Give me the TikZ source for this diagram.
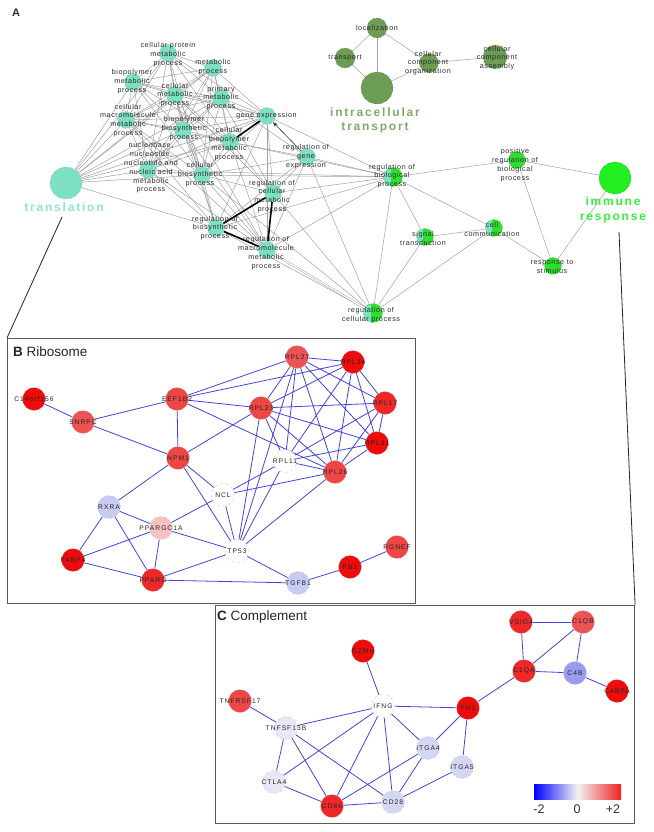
\documentclass[tikz,border=0pt]{standalone}
\usepackage{fontspec}
\setmainfont{Liberation Sans}
\newfontfamily\lsp[LetterSpace=8]{Liberation Sans}
\newfontfamily\bsp[LetterSpace=15]{Liberation Sans}
\newfontfamily\gsp[LetterSpace=15]{Liberation Sans}
\usetikzlibrary{arrows.meta}
\pgfdeclarelayer{boxes}
\pgfdeclarelayer{edges}
\pgfsetlayers{boxes,edges,main}
\definecolor{tealc}{HTML}{7DDFC3}
\definecolor{tealt}{HTML}{8EE5CB}
\definecolor{olivec}{HTML}{6D9C55}
\definecolor{olivet}{HTML}{7FAD68}
\definecolor{greenc}{HTML}{2EE02E}
\definecolor{greenb}{HTML}{22EE22}
\definecolor{greent}{HTML}{3BEE3B}
\definecolor{edgeg}{HTML}{A2A2A2}
\definecolor{blueedge}{HTML}{4444DD}
\definecolor{txtA}{HTML}{2E2E2E}
\definecolor{txtB}{HTML}{262626}
\definecolor{rOne}{HTML}{EE0B0B}
\definecolor{rTwo}{HTML}{EE4545}
\definecolor{rThree}{HTML}{EC5353}
\definecolor{rA}{HTML}{EE2828}
\definecolor{pinkc}{HTML}{F5C2C2}
\definecolor{lavOne}{HTML}{C8CBF2}
\definecolor{lavTwo}{HTML}{E6E8F8}
\definecolor{lavThree}{HTML}{D4D7F4}
\definecolor{cfourc}{HTML}{9A9AEE}
\definecolor{cbblue}{HTML}{0000FF}
\definecolor{cbred}{HTML}{EE2222}
\definecolor{cbmid}{HTML}{F2F2F2}
\begin{document}
\begin{tikzpicture}[x=1pt,y=-1pt,
  ae/.style={draw=edgeg, line width=0.5pt},
  ak/.style={draw=black, line width=1.6pt},
  anode/.style={circle, inner sep=0pt, minimum size=17pt, dashed, line width=0.25pt},
  tn/.style={anode, fill=tealc, draw=tealc!85!black},
  gn/.style={anode, fill=greenc, draw=greenc!85!black},
  mixn/.style={anode, fill=greenc, draw=greenc!85!black, path picture={\fill[tealc] (path picture bounding box.south west) rectangle ([xshift=-2pt]path picture bounding box.north);}},
  on/.style={anode, fill=olivec, draw=olivec!85!black},
  al/.style={font=\lsp\fontsize{7.2}{8.8}\selectfont, text=txtA, align=center, inner sep=0pt},
  big/.style={font=\bsp\bfseries\fontsize{12}{14.5}\selectfont, align=center, inner sep=0pt},
  be/.style={draw=blueedge, line width=0.8pt},
  pn/.style={circle, inner sep=0pt, minimum size=23pt, draw=gray!45, dashed, line width=0.3pt},
  pl/.style={font=\gsp\fontsize{6.7}{8}\selectfont, text=txtB, inner sep=0pt},
  boxs/.style={draw=black!65, line width=1.1pt, fill=white, inner sep=0pt},
  conn/.style={draw=black!85, line width=0.8pt}
]
\useasboundingbox (0,0) rectangle (653,832);
\begin{pgfonlayer}{boxes}
\fill[white] (0,0) rectangle (653,832);
\end{pgfonlayer}

\node[font=\bfseries\fontsize{11}{12}\selectfont, text=txtA] (lblA) at (16,13) {A};

% ---------- panel A nodes ----------
\node[tn] (cpm) at (168,53) {};
\node[tn] (mp) at (213,68) {};
\node[tn] (bpm) at (133,82) {};
\node[tn] (cm) at (175,95) {};
\node[tn] (pm) at (221,98) {};
\node[tn] (ge) at (267,116) {};
\node[tn] (cmm) at (126,120) {};
\node[tn] (bbs) at (183,130) {};
\node[tn] (cbm) at (230,142) {};
\node[tn] (nuc) at (148,170) {};
\node[tn] (cbs) at (202,175) {};
\node[tn] (rge) at (307,157) {};
\node[tn] (rcm) at (273,193) {};
\node[tn] (rbs) at (216,228) {};
\node[tn] (rmm) at (267,250) {};
\node[tn, minimum size=32pt] (trans) at (66,183) {};
\node[mixn, minimum size=19pt] (rbp) at (393,177) {};
\node[gn] (prb) at (517,160) {};
\node[gn, minimum size=32pt, fill=greenb] (imm) at (615,178) {};
\node[mixn] (sig) at (425,237) {};
\node[mixn] (cc) at (494,228) {};
\node[gn] (rs) at (553,266) {};
\node[mixn, minimum size=19pt] (rcp) at (373,313) {};
\node[on, minimum size=20pt] (loc) at (377,28) {};
\node[on, minimum size=20pt] (tr) at (345,58) {};
\node[on, minimum size=32pt] (ict) at (377,88) {};
\node[on, minimum size=19pt] (cco) at (429,63) {};
\node[on, minimum size=24pt] (cca) at (495,57) {};

% ---------- panel A edges ----------
\begin{pgfonlayer}{edges}
\foreach \a [count=\i] in {cpm,mp,bpm,cm,pm,ge,cmm,bbs,cbm,nuc,cbs}{
  \foreach \b [count=\j] in {cpm,mp,bpm,cm,pm,ge,cmm,bbs,cbm,nuc,cbs}{
    \ifnum\j>\i \draw[ae] (\a) -- (\b);\fi
  }
}
\foreach \a/\b in {trans/cpm,trans/bpm,trans/cmm,trans/cm,trans/mp,trans/pm,trans/bbs,trans/nuc,trans/cbs,trans/ge,trans/cbm,trans/rbs,
  rge/cbm,rge/cbs,rge/pm,rge/rcm,rge/rbs,rge/rmm,rge/rbp,rge/rcp,
  rcm/ge,rcm/cbm,rcm/cbs,rcm/cm,rcm/pm,rcm/rbp,rcm/rcp,
  rbs/cbs,rbs/nuc,rbs/bbs,rbs/cmm,rbs/cm,rbs/ge,rbs/rbp,rbs/rcp,
  rmm/cbs,rmm/nuc,rmm/bbs,rmm/cmm,rmm/cbm,rmm/ge,rmm/rbp,rmm/cm,
  rbp/ge,rbp/nuc,rbp/cbs,rbp/cbm,rbp/sig,rbp/cc,rbp/prb,rbp/rcp,
  prb/imm,prb/rs,imm/rs,cc/sig,cc/rs,cc/rcp,sig/rcp,rcp/cbs,
  loc/tr,loc/ict,loc/cco,tr/ict,ict/cco,cco/cca}
  \draw[ae] (\a) -- (\b);
\draw[ae, double=white, double distance=1.2pt] (rmm) -- (rcp);
\draw[ak] (ge) -- (cbm);
\draw[ak] (rbs) -- (rcm);
\draw[ak] (rbs) -- (rmm);
\draw[ak] (rcm) -- (rmm);
\draw[draw=black!80, line width=0.6pt, -{Stealth[length=5pt,width=4pt]}] (rge) -- (ge);
\end{pgfonlayer}

% ---------- panel A labels ----------
\node[al] (cpm-t) at (168,54.5) {cellular protein\\metabolic\\process};
\node[al] (mp-t) at (213,67.5) {metabolic\\process};
\node[al] (bpm-t) at (132,81.5) {biopolymer\\metabolic\\process};
\node[al] (cm-t) at (175,95) {cellular\\metabolic\\process};
\node[al] (pm-t) at (221,98) {primary\\metabolic\\process};
\node[al] (ge-t) at (266.5,116) {gene expression};
\node[al] (cmm-t) at (128,120.5) {cellular\\macromolecule\\metabolic\\process};
\node[al] (bbs-t) at (184,128.5) {biopolymer\\biosynthetic\\process};
\node[al] (cbm-t) at (229,144) {cellular\\biopolymer\\metabolic\\process};
\node[al] (nuc-t) at (151,168) {nucleobase,\\nucleoside,\\nucleotide and\\nucleic acid\\metabolic\\process};
\node[al] (cbs-t) at (200,174.5) {cellular\\biosynthetic\\process};
\node[al] (rge-t) at (306,156.5) {regulation of\\gene\\expression};
\node[al] (rcm-t) at (272,196.5) {regulation of\\cellular\\metabolic\\process};
\node[al] (rbs-t) at (215,228) {regulation of\\biosynthetic\\process};
\node[al] (rmm-t) at (266,253) {regulation of\\macromolecule\\metabolic\\process};
\node[al] (rcp-t) at (371,315) {regulation of\\cellular process};
\node[al] (rbp-t) at (392,176) {regulation of\\biological\\process};
\node[al] (prb-t) at (515,165) {positive\\regulation of\\biological\\process};
\node[al] (sig-t) at (423,238.5) {signal\\transduction};
\node[al] (cc-t) at (492,229.5) {cell\\communication};
\node[al] (rs-t) at (552,266.5) {response to\\stimulus};
\node[al] (loc-t) at (377,28) {localization};
\node[al] (tr-t) at (345,58) {transport};
\node[al] (cco-t) at (428,63) {cellular\\component\\organization};
\node[al] (cca-t) at (497,58) {cellular\\component\\assembly};
\node[big, text=tealt] (trans-t) at (64,207) {translation};
\node[big, text=olivet] (ict-t) at (375,120.5) {intracellular\\transport};
\node[big, text=greent] (imm-t) at (613,210) {immune\\response};

% ---------- panel boxes and connectors ----------
\coordinate (transfoot) at (62,217);
\coordinate (immfoot) at (619,232);
\begin{pgfonlayer}{boxes}
\node[boxs, anchor=north west, minimum width=408pt, minimum height=265pt] (boxB) at (7,338) {};
\node[boxs, anchor=north west, minimum width=419pt, minimum height=218pt] (boxC) at (215,605) {};
\draw[conn] (transfoot) -- (boxB.north west);
\draw[conn] (immfoot) -- (boxC.north east);
\end{pgfonlayer}
\node[anchor=west, inner sep=0pt, font=\fontsize{13.5}{14}\selectfont, text=black!85] (titleB) at (13,352) {\textbf{B} Ribosome};
\node[anchor=west, inner sep=0pt, font=\fontsize{13.5}{14}\selectfont, text=black!85] (titleC) at (217,617) {\textbf{C} Complement};

% ---------- panel B ----------
\node[pn, fill=rOne, label={[pl]center:C14orf156}] (c14) at (34,399) {};
\node[pn, fill=rThree, label={[pl]center:SNRPC}] (snrpc) at (83,422) {};
\node[pn, fill=rTwo, label={[pl]center:EEF1B2}] (eef) at (177,399) {};
\node[pn, fill=rTwo, label={[pl]center:NPM1}] (npm) at (178,458) {};
\node[pn, fill=lavOne, label={[pl]center:RXRA}] (rxra) at (109,507) {};
\node[pn, fill=pinkc, label={[pl]center:PPARGC1A}] (pgc) at (161,528) {};
\node[pn, fill=rOne, label={[pl]center:FABP4}] (fabp) at (73,560) {};
\node[pn, fill=rA, label={[pl]center:PPARG}] (pparg) at (153,580) {};
\node[pn, fill=rThree, label={[pl]center:RPL27}] (rpl27) at (297,357) {};
\node[pn, fill=rOne, label={[pl]center:RPL34}] (rpl34) at (353,362) {};
\node[pn, fill=rA, label={[pl]center:RPL17}] (rpl17) at (385,403) {};
\node[pn, fill=rTwo, label={[pl]center:RPL23}] (rpl23) at (261,408) {};
\node[pn, fill=rOne, label={[pl]center:RPL31}] (rpl31) at (377,443) {};
\node[pn, fill=white, label={[pl]center:RPL11}] (rpl11) at (285,461) {};
\node[pn, fill=rTwo, label={[pl]center:RPL26}] (rpl26) at (335,472) {};
\node[pn, fill=white, label={[pl]center:NCL}] (ncl) at (223,495) {};
\node[pn, fill=white, label={[pl]center:TP53}] (tp53) at (237,551) {};
\node[pn, fill=lavOne, label={[pl]center:TGFB1}] (tgfb) at (298,583) {};
\node[pn, fill=rOne, label={[pl]center:FN1}] (fnb) at (350,567) {};
\node[pn, fill=rTwo, label={[pl]center:RGNEF}] (rgnef) at (397,547) {};
\begin{pgfonlayer}{edges}
\foreach \a/\b in {c14/snrpc,snrpc/eef,snrpc/npm,eef/npm,eef/rpl27,eef/rpl34,eef/rpl23,eef/rpl26,
  npm/rpl23,npm/ncl,npm/tp53,npm/rxra,rxra/pgc,rxra/fabp,rxra/pparg,pgc/fabp,pgc/pparg,pgc/ncl,pgc/tp53,
  fabp/pparg,pparg/tp53,pparg/tgfb,ncl/tp53,ncl/rpl11,ncl/rpl26,tp53/rpl23,tp53/rpl27,tp53/rpl11,tp53/rpl26,
  tp53/tgfb,tgfb/fnb,fnb/rgnef}
  \draw[be] (\a) -- (\b);
\foreach \a [count=\i] in {rpl27,rpl34,rpl17,rpl23,rpl31,rpl11,rpl26}{
  \foreach \b [count=\j] in {rpl27,rpl34,rpl17,rpl23,rpl31,rpl11,rpl26}{
    \ifnum\j>\i \draw[be] (\a) -- (\b);\fi
  }
}
\end{pgfonlayer}

% ---------- panel C ----------
\node[pn, fill=rOne, label={[pl]center:GZMH}] (gzmh) at (363,651) {};
\node[pn, fill=rTwo, label={[pl]center:TNFRSF17}] (tnfr) at (240,701) {};
\node[pn, fill=white, label={[pl]center:IFNG}] (ifng) at (383,706) {};
\node[pn, fill=lavTwo, label={[pl]center:TNFSF13B}] (tnfs) at (286,728) {};
\node[pn, fill=lavThree, label={[pl]center:ITGA4}] (itga4) at (428,748) {};
\node[pn, fill=lavTwo, label={[pl]center:CTLA4}] (ctla4) at (274,782) {};
\node[pn, fill=rA, label={[pl]center:CD86}] (cd86) at (332,806) {};
\node[pn, fill=lavThree, label={[pl]center:CD28}] (cd28) at (393,802) {};
\node[pn, fill=rA, label={[pl]center:VSIG4}] (vsig4) at (521,622) {};
\node[pn, fill=rThree, label={[pl]center:C1QB}] (c1qb) at (583,622) {};
\node[pn, fill=rA, label={[pl]center:C1QA}] (c1qa) at (524,671) {};
\node[pn, fill=cfourc, label={[pl]center:C4B}] (c4b) at (575,673) {};
\node[pn, fill=rOne, label={[pl]center:C4BPA}] (c4bpa) at (617,691) {};
\node[pn, fill=rOne, label={[pl]center:FN1}] (fnc) at (468,708) {};
\node[pn, fill=lavThree, label={[pl]center:ITGA5}] (itga5) at (462,767) {};
\begin{pgfonlayer}{edges}
\foreach \a/\b in {gzmh/ifng,tnfr/tnfs,ifng/tnfs,ifng/fnc,ifng/itga4,ifng/ctla4,ifng/cd86,ifng/cd28,
  tnfs/ctla4,tnfs/cd86,tnfs/cd28,ctla4/cd86,cd86/cd28,cd86/itga4,itga4/cd28,itga4/fnc,cd28/itga5,itga5/fnc,
  fnc/c1qa,c1qa/vsig4,c1qa/c1qb,c1qa/c4b,vsig4/c1qb,c1qb/c4b,c4b/c4bpa}
  \draw[be] (\a) -- (\b);
\end{pgfonlayer}

% ---------- colour bar ----------
\shade[left color=cbblue, right color=cbred, middle color=cbmid] (534,784) rectangle (621,799);
\node[font=\fontsize{12.5}{13}\selectfont, text=txtA] (cbla) at (539,809) {-2};
\node[font=\fontsize{12.5}{13}\selectfont, text=txtA] (cblb) at (577,809) {0};
\node[font=\fontsize{12.5}{13}\selectfont, text=txtA] (cblc) at (613,809) {+2};
\end{tikzpicture}
\end{document}
